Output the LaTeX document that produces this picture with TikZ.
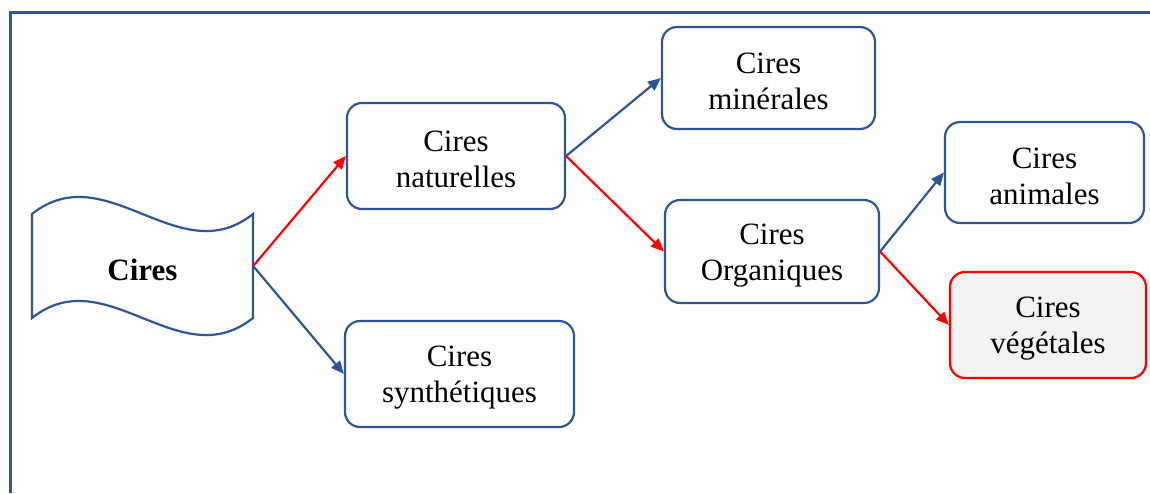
\documentclass[tikz,border=0pt]{standalone}
\usepackage{fontspec}
\setmainfont{Liberation Serif}
\usetikzlibrary{arrows.meta}
\definecolor{wblue}{HTML}{2F5597}
\definecolor{wred}{HTML}{FF0000}
\definecolor{wgray}{HTML}{F2F2F2}
\newcommand{\lowerstrut}{\rule{0pt}{28pt}}
\tikzset{
  box/.style={draw=wblue, line width=2.2pt, rounded corners=15pt, align=center,
    inner sep=0pt, font=\fontsize{31}{36}\selectfont, text=black},
  redbox/.style={box, draw=wred, fill=wgray},
  link/.style={line width=2.2pt, -{Triangle[length=13pt,width=11pt]}},
  bluelink/.style={link, draw=wblue, fill=wblue},
  redlink/.style={link, draw=wred, fill=wred}
}
\begin{document}
\begin{tikzpicture}[x=1pt,y=-1pt]
\useasboundingbox (0,0) rectangle (1150,493);
% frame
\draw[wblue, line width=3pt] (10,493) -- (10,12) -- (1150,12);
% wave
\draw[wblue, line width=2.2pt, fill=white]
  (32,214) .. controls (106,155) and (179,273) .. (253,214)
  -- (253,318) .. controls (179,377) and (106,259) .. (32,318) -- cycle;
\node[inner sep=0pt, minimum width=221pt, minimum height=104pt,
  font=\fontsize{31}{36}\selectfont\bfseries] (cires) at (142.5,266) {\rule{0pt}{30pt}Cires};
% boxes
\node[box, minimum width=218pt, minimum height=106pt] (nat) at (456,156) {\lowerstrut Cires\\naturelles};
\node[box, minimum width=229pt, minimum height=106pt] (syn) at (459.5,374) {\lowerstrut Cires\\synthétiques};
\node[box, minimum width=213pt, minimum height=102pt] (min) at (768.5,78) {\lowerstrut Cires\\minérales};
\node[box, minimum width=214pt, minimum height=103pt] (org) at (772,251.5) {\lowerstrut Cires\\Organiques};
\node[box, minimum width=199pt, minimum height=101pt] (ani) at (1044.5,172.5) {\lowerstrut Cires\\animales};
\node[redbox, minimum width=196pt, minimum height=106pt] (veg) at (1048,325) {\lowerstrut Cires\\végétales};
% connectors
\draw[redlink] (cires.east) -- (nat.west);
\draw[bluelink] (cires.east) -- (syn.west);
\draw[bluelink] (nat.east) -- (min.west);
\draw[redlink] (nat.east) -- (org.west);
\draw[bluelink] (org.east) -- (ani.west);
\draw[redlink] (org.east) -- (veg.west);
\end{tikzpicture}
\end{document}
